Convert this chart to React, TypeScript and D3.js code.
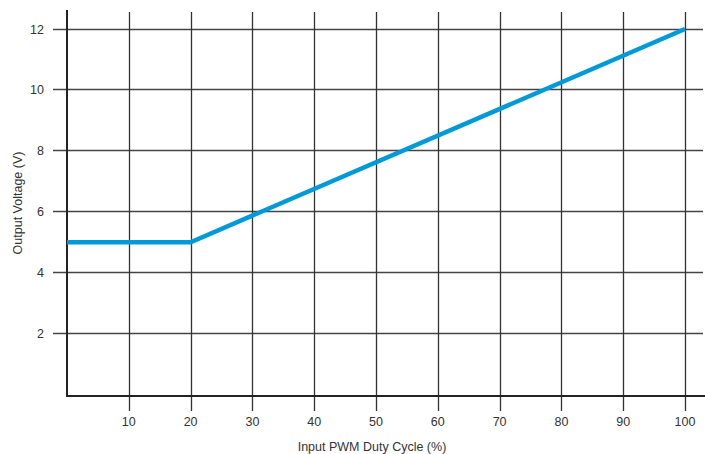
import React from "react";
import * as d3 from "d3";

const dutyCycle = [0, 20, 100];
const voltage = [5, 5, 12];
const xTicks = [10, 20, 30, 40, 50, 60, 70, 80, 90, 100];
const yTicks = [2, 4, 6, 8, 10, 12];

export default function App() {
  const W = 705, H = 454;
  const x = d3.scaleLinear().domain([0, 100]).range([67, 685]);
  const y = d3.scaleLinear().domain([0, 12]).range([394.5, 29]);
  const pts = dutyCycle.map((d, i) => [x(d), y(voltage[i])] as [number, number]);
  const line = d3.line()(pts) || "";
  const font = "Liberation Sans, Arial, sans-serif";
  return (
    <svg width={W} height={H} style={{ position: "absolute", left: 0, top: 0, background: "#fff" }}>
      {yTicks.map((t) => (
        <g key={"y" + t}>
          <line x1={53} x2={703} y1={Math.floor(y(t)) + 0.5} y2={Math.floor(y(t)) + 0.5} stroke="#444" strokeWidth={1.3} />
          <text x={44} y={y(t) + 4.5} textAnchor="end" fontFamily={font} fontSize={12.5} fill="#333">{t}</text>
        </g>
      ))}
      {xTicks.map((t) => (
        <g key={"x" + t}>
          <line x1={Math.round(x(t)) + 0.5} x2={Math.round(x(t)) + 0.5} y1={12} y2={411} stroke="#333" strokeWidth={1.3} />
          <text x={x(t)} y={426} textAnchor="middle" fontFamily={font} fontSize={12.5} fill="#333">{t}</text>
        </g>
      ))}
      <line x1={67} x2={67} y1={10} y2={397} stroke="#222" strokeWidth={2} />
      <line x1={66} x2={705} y1={396} y2={396} stroke="#222" strokeWidth={2} />
      <path d={line} fill="none" stroke="#009ad9" strokeWidth={4.5} strokeLinejoin="miter" />
      <text x={372} y={451} textAnchor="middle" fontFamily={font} fontSize={12.5} fill="#333">Input PWM Duty Cycle (%)</text>
      <text transform={`translate(22,203) rotate(-90)`} textAnchor="middle" fontFamily={font} fontSize={12.5} fill="#333">Output Voltage (V)</text>
    </svg>
  );
}
